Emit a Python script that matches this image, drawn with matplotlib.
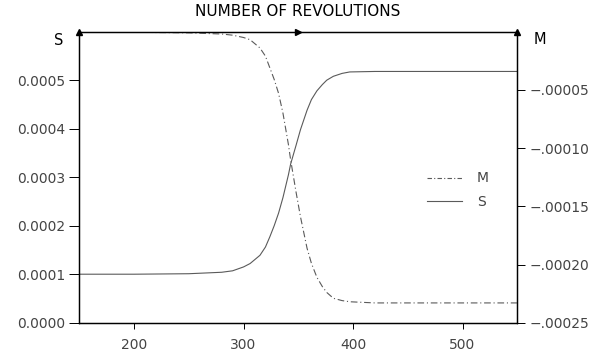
import matplotlib
matplotlib.use("Agg")
import matplotlib.pyplot as plt
from matplotlib.lines import Line2D

# ---- data ----
revolutions = [150, 200, 250, 280, 290, 300, 306, 315, 320, 324, 328, 332, 336, 341, 343,
               348, 352, 358, 362, 367, 372, 376, 382, 390, 397, 420, 450, 500, 550]
s_values = [0.000100, 0.000100, 0.000101, 0.000104, 0.000107, 0.000115, 0.000122,
            0.000139, 0.000156, 0.000177, 0.000200, 0.000226, 0.000258, 0.000305,
            0.000327, 0.000366, 0.000398, 0.000438, 0.000460, 0.000478, 0.000491,
            0.000500, 0.000508, 0.000514, 0.000517, 0.000518, 0.000518, 0.000518,
            0.000518]
m_values = [-0.0000005, -0.0000005, -0.000001, -0.000002, -0.000003, -0.000005,
            -0.0000069, -0.000014, -0.000021, -0.000031, -0.000041, -0.000053,
            -0.000070, -0.000097, -0.000110, -0.000138, -0.000159, -0.000186,
            -0.000199, -0.000211, -0.000219, -0.000224, -0.000229, -0.000231,
            -0.000232, -0.000233, -0.000233, -0.000233, -0.000233]

x_ticks = [200, 300, 400, 500]
x_tick_labels = ["200", "300", "400", "500"]
s_ticks = [0.0, 0.0001, 0.0002, 0.0003, 0.0004, 0.0005]
s_tick_labels = ["0.0000", "0.0001", "0.0002", "0.0003", "0.0004", "0.0005"]
m_ticks = [-0.00005, -0.00010, -0.00015, -0.00020, -0.00025]
m_tick_labels = ["\u2212.00005", "\u2212.00010", "\u2212.00015", "\u2212.00020", "\u2212.00025"]

title_text = "NUMBER OF REVOLUTIONS"

plt.rcParams['font.family'] = ['DejaVu Sans']

fig = plt.figure(figsize=(6.08, 3.52), dpi=100)
ax = fig.add_axes([0.1304, 0.0832, 0.7204, 0.8268])
ax2 = ax.twinx()

line_col = "#5a5a5a"
lbl_col = "#444444"

ls, = ax.plot(revolutions, s_values, color=line_col, lw=0.8, solid_capstyle='butt')
lm, = ax2.plot(revolutions, m_values, color=line_col, lw=0.8,
               linestyle=(0, (6, 2.5, 1, 2.5)))

ax.set_xlim(150, 550)
ax.set_ylim(0, 0.0006)
ax2.set_ylim(-0.00025, 0.0)

ax.set_xticks(x_ticks)
ax.set_xticklabels(x_tick_labels)
ax.set_yticks(s_ticks)
ax.set_yticklabels(s_tick_labels)
ax2.set_yticks(m_ticks)
ax2.set_yticklabels(m_tick_labels)

ax.tick_params(axis='x', direction='out', length=4, width=0.7, pad=7,
               labelsize=10, labelcolor=lbl_col)
ax.tick_params(axis='y', direction='out', length=7, width=0.7, pad=3,
               labelsize=10, labelcolor=lbl_col)
ax2.tick_params(axis='y', direction='out', length=6, width=0.7, pad=3,
                labelsize=10, labelcolor=lbl_col)

for a in (ax, ax2):
    for sp in a.spines.values():
        sp.set_linewidth(0.9)
        sp.set_color('black')

# arrow heads on the axes
ax.plot([0], [1], marker='^', markersize=5, color='black', transform=ax.transAxes,
        clip_on=False, zorder=5)
ax.plot([1], [1], marker='^', markersize=5, color='black', transform=ax.transAxes,
        clip_on=False, zorder=5)
ax.plot([0.5], [1], marker='>', markersize=5, color='black', transform=ax.transAxes,
        clip_on=False, zorder=5)

# axis names
ax.text(-0.048, 0.969, "S", transform=ax.transAxes, ha='center', va='center',
        fontsize=10.5, color='black')
ax.text(1.052, 0.974, "M", transform=ax.transAxes, ha='center', va='center',
        fontsize=10.5, color='black')
fig.text(0.49, 0.966, title_text, ha='center', va='center', fontsize=11,
         color='black')

handles = [Line2D([], [], color=line_col, lw=0.8, linestyle=(0, (4, 2, 1, 2))),
           Line2D([], [], color=line_col, lw=0.8)]
ax2.legend(handles, ["M", "S"], loc='center left', bbox_to_anchor=(0.765, 0.455),
           frameon=False, fontsize=10, handlelength=2.5, handletextpad=1.1,
           labelspacing=0.7, labelcolor=lbl_col)

fig.savefig("out.png", dpi=100)
